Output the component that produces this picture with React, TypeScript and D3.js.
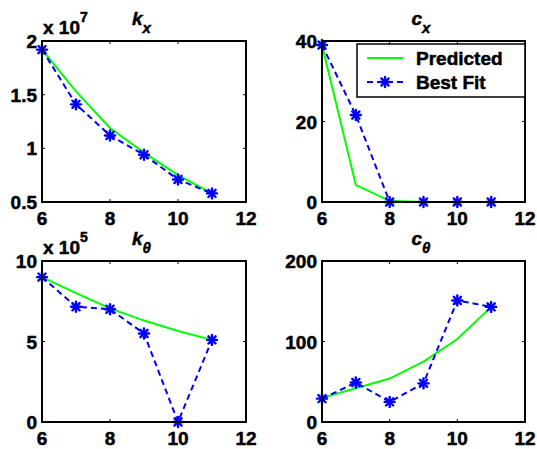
import * as d3 from "d3";

// x positions shared by every panel
const xs = [6, 7, 8, 9, 10, 11];
const xTicks = [6, 8, 10, 12];

// k_x (x 10^7)
const kxPredicted = [1.92, 1.53, 1.19, 0.96, 0.75, 0.58];
const kxBestFit = [1.92, 1.41, 1.12, 0.94, 0.71, 0.58];
const kxTicks = [0.5, 1, 1.5, 2];

// c_x
const cxPredicted = [39, 4.2, 0.3, 0, 0, 0];
const cxBestFit = [39, 21.6, 0, 0, 0, 0];
const cxTicks = [0, 20, 40];

// k_theta (x 10^5)
const ktPredicted = [9.0, 8.0, 7.06, 6.3, 5.65, 5.1];
const ktBestFit = [9.0, 7.16, 7.0, 5.5, 0, 5.1];
const ktTicks = [0, 5, 10];

// c_theta
const ctPredicted = [30, 42, 54, 75, 103, 143];
const ctBestFit = [29, 49, 25, 48, 151, 143];
const ctTicks = [0, 100, 200];

const legendLabels = ["Predicted", "Best Fit"];

const FONT = "'Liberation Sans', Arial, sans-serif";
const GREEN = "#00ff00";
const BLUE = "#0000ff";

type PanelProps = {
  left: number;
  top: number;
  width: number;
  height: number;
  yDomain: [number, number];
  yTicks: number[];
  predicted: number[];
  bestFit: number[];
  title: string;
  sub: string;
  exponent?: string;
  legend?: boolean;
};

function Star({ x, y }: { x: number; y: number }) {
  const r = 5;
  const d = r * 0.72;
  return (
    <g stroke={BLUE} strokeWidth={2.4} strokeLinecap="round">
      <line x1={x - r} y1={y} x2={x + r} y2={y} />
      <line x1={x} y1={y - r} x2={x} y2={y + r} />
      <line x1={x - d} y1={y - d} x2={x + d} y2={y + d} />
      <line x1={x - d} y1={y + d} x2={x + d} y2={y - d} />
    </g>
  );
}

function Panel(p: PanelProps) {
  const x = d3.scaleLinear().domain([6, 12]).range([p.left, p.left + p.width]);
  const y = d3.scaleLinear().domain(p.yDomain).range([p.top + p.height, p.top]);
  const line = d3
    .line<number>()
    .x((_, i) => x(xs[i]))
    .y((v) => y(v));
  const bottom = p.top + p.height;
  const right = p.left + p.width;
  const tl = 3;
  const cx = p.left + p.width / 2;

  return (
    <g fontFamily={FONT} fontWeight="bold">
      {/* ticks, inside the box on all four sides */}
      {xTicks.map((t) => (
        <g key={"xt" + t} stroke="#000" strokeWidth={1}>
          <line x1={x(t)} x2={x(t)} y1={bottom} y2={bottom - tl} />
          <line x1={x(t)} x2={x(t)} y1={p.top} y2={p.top + tl} />
        </g>
      ))}
      {p.yTicks.map((t) => (
        <g key={"yt" + t} stroke="#000" strokeWidth={1}>
          <line x1={p.left} x2={p.left + tl} y1={y(t)} y2={y(t)} />
          <line x1={right} x2={right - tl} y1={y(t)} y2={y(t)} />
        </g>
      ))}
      <path d={line(p.predicted) ?? ""} fill="none" stroke={GREEN} strokeWidth={2} />
      <path
        d={line(p.bestFit) ?? ""}
        fill="none"
        stroke={BLUE}
        strokeWidth={2}
        strokeDasharray="6,4"
      />
      {p.bestFit.map((v, i) => (
        <Star key={i} x={x(xs[i])} y={y(v)} />
      ))}
      <rect
        x={p.left}
        y={p.top}
        width={p.width}
        height={p.height}
        fill="none"
        stroke="#000"
        strokeWidth={2}
      />
      <g stroke="#000" strokeWidth={0.5}>
        {xTicks.map((t) => (
          <text key={"xl" + t} x={x(t)} y={bottom + 23} textAnchor="middle" fontSize={19}>
            {t}
          </text>
        ))}
        {p.yTicks.map((t) => (
          <text key={"yl" + t} x={p.left - 5} y={y(t) + 7} textAnchor="end" fontSize={19}>
            {t}
          </text>
        ))}
        {p.exponent && (
          <text x={p.left + 1} y={p.top - 7} fontSize={19}>
            x 10
            <tspan dy={-12} fontSize={14}>
              {p.exponent}
            </tspan>
          </text>
        )}
        <text x={cx - 12} y={p.top - 16} fontSize={19} fontStyle="italic">
          {p.title}
          <tspan dy={8} fontSize={15}>
            {p.sub}
          </tspan>
        </text>
      </g>
      {p.legend && (
        <g>
          <rect x={357} y={44} width={168} height={53} fill="#fff" stroke="#000" strokeWidth={1.5} />
          <line x1={367} x2={403} y1={58} y2={58} stroke={GREEN} strokeWidth={2} />
          <line x1={367} x2={403} y1={82} y2={82} stroke={BLUE} strokeWidth={2} strokeDasharray="6,4" />
          <Star x={385} y={82} />
          <g stroke="#000" strokeWidth={0.5}>
            <text x={416} y={65} fontSize={19}>
              {legendLabels[0]}
            </text>
            <text x={416} y={89} fontSize={19}>
              {legendLabels[1]}
            </text>
          </g>
        </g>
      )}
    </g>
  );
}

export default function App() {
  return (
    <svg
      width={537}
      height={449}
      style={{ position: "absolute", left: 0, top: 0, background: "#fff" }}
    >
      <Panel left={42} top={41} width={204} height={161} yDomain={[0.5, 2]} yTicks={kxTicks}
        predicted={kxPredicted} bestFit={kxBestFit} title="k" sub="x" exponent="7" />
      <Panel left={322} top={41} width={203} height={161} yDomain={[0, 40]} yTicks={cxTicks}
        predicted={cxPredicted} bestFit={cxBestFit} title="c" sub="x" legend />
      <Panel left={42} top={261} width={204} height={161} yDomain={[0, 10]} yTicks={ktTicks}
        predicted={ktPredicted} bestFit={ktBestFit} title="k" sub="θ" exponent="5" />
      <Panel left={322} top={261} width={203} height={161} yDomain={[0, 200]} yTicks={ctTicks}
        predicted={ctPredicted} bestFit={ctBestFit} title="c" sub="θ" />
    </svg>
  );
}
